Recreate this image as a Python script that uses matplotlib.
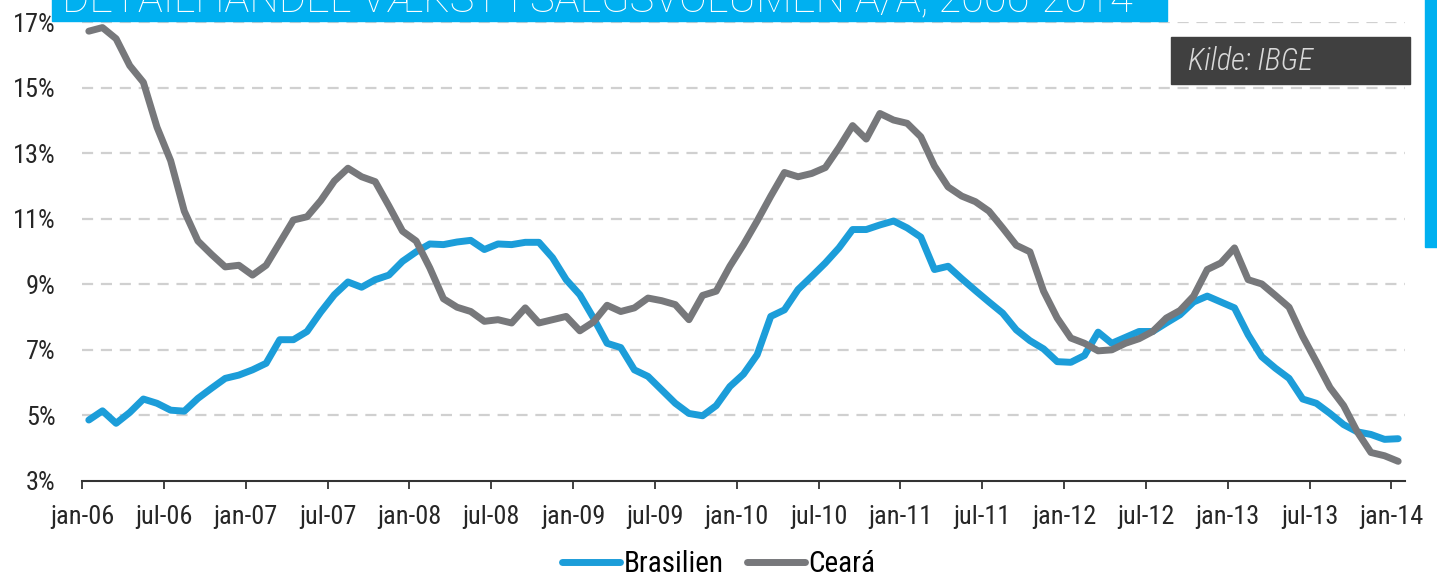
import numpy as np
import matplotlib
matplotlib.use("Agg")
import matplotlib.pyplot as plt
from matplotlib.patches import Rectangle
from matplotlib import font_manager

# monthly y/y growth, jan-06 .. jan-14
brasilien = [4.86, 5.14, 4.76, 5.09, 5.50, 5.37, 5.16, 5.13, 5.52, 5.83, 6.13, 6.23, 6.39, 6.59, 7.31, 7.31, 7.56,
             8.15, 8.68, 9.07, 8.91, 9.14, 9.28, 9.70, 9.99, 10.23, 10.21, 10.29, 10.34, 10.06, 10.23, 10.21, 10.28, 10.28, 9.81,
             9.14, 8.68, 7.97, 7.20, 7.07, 6.39, 6.19, 5.78, 5.37, 5.06, 4.99, 5.30, 5.88, 6.26, 6.85, 8.02, 8.22, 8.84,
             9.24, 9.65, 10.11, 10.67, 10.67, 10.81, 10.93, 10.72, 10.44, 9.45, 9.55, 9.17, 8.81, 8.46, 8.12, 7.61, 7.28, 7.03,
             6.64, 6.62, 6.83, 7.54, 7.20, 7.38, 7.56, 7.56, 7.82, 8.07, 8.46, 8.64, 8.46, 8.28, 7.46, 6.79, 6.44,
             6.13, 5.50, 5.37, 5.06, 4.72, 4.50, 4.42, 4.27, 4.29]
ceara = [16.72, 16.83, 16.49, 15.67, 15.16, 13.79, 12.77, 11.23, 10.32, 9.91, 9.53, 9.58, 9.28, 9.58, 10.27, 10.96, 11.06,
         11.55, 12.15, 12.54, 12.28, 12.13, 11.39, 10.62, 10.32, 9.50, 8.56, 8.30, 8.17, 7.87, 7.92, 7.82, 8.28, 7.82, 7.92,
         8.02, 7.58, 7.85, 8.36, 8.17, 8.28, 8.58, 8.50, 8.38, 7.92, 8.66, 8.79, 9.55, 10.21, 10.93, 11.69, 12.41, 12.28,
         12.38, 12.56, 13.17, 13.84, 13.43, 14.21, 14.01, 13.91, 13.50, 12.61, 11.97, 11.69, 11.52, 11.23, 10.72, 10.19, 9.99, 8.79,
         7.97, 7.36, 7.20, 6.97, 7.00, 7.20, 7.34, 7.56, 7.97, 8.20, 8.64, 9.45, 9.65, 10.11, 9.14, 9.01, 8.66,
         8.30, 7.41, 6.64, 5.85, 5.30, 4.50, 3.87, 3.77, 3.60]
tick_labels = ["jan-06", "jul-06", "jan-07", "jul-07", "jan-08", "jul-08", "jan-09", "jul-09", "jan-10",
               "jul-10", "jan-11", "jul-11", "jan-12", "jul-12", "jan-13", "jul-13", "jan-14"]
y_ticks = [3, 5, 7, 9, 11, 13, 15, 17]
series_names = ["Brasilien", "Ceará"]
title = "DETAILHANDEL VÆKST I SALGSVOLUMEN Å/Å, 2006-2014"
source = "Kilde: IBGE"

blue = "#1c9dd9"
grey = "#77787b"
cyan = "#00b0f0"

# narrow font if there is one, else Liberation Sans
installed = {f.name for f in font_manager.fontManager.ttflist}
font = [f for f in ["Roboto Condensed", "Liberation Sans Narrow", "Liberation Sans"] if f in installed][0]
narrow = font != "Liberation Sans"
fs = 19 if narrow else 16

fig = plt.figure(figsize=(14.37, 5.78), dpi=100)
ax = fig.add_axes([82 / 1437, 97 / 578, 1323 / 1437, 459 / 578])

x = np.arange(len(brasilien)) + 0.5
ax.plot(x, brasilien, color=blue, lw=5, solid_joinstyle="round", solid_capstyle="round", label=series_names[0], zorder=3)
ax.plot(x, ceara, color=grey, lw=5, solid_joinstyle="round", solid_capstyle="round", label=series_names[1], zorder=3)

ax.set_xlim(0, 97)
ax.set_ylim(3, 17)
ax.set_xticks(np.arange(0, 97, 6))
ax.set_xticklabels(tick_labels, fontsize=fs, family=font, color="#262626")
ax.set_yticks(y_ticks)
ax.set_yticklabels([f"{v}%" for v in y_ticks], fontsize=fs, family=font, color="#262626")
ax.tick_params(axis="x", length=6, width=1.3, color="#333333", pad=11, direction="out")
ax.tick_params(axis="y", length=0, pad=19)
for v in y_ticks[1:]:
    ax.axhline(v, color="#d0d0d0", lw=1.6, linestyle=(0, (5, 3.5)), zorder=1)
for s in ["top", "right", "left"]:
    ax.spines[s].set_visible(False)
ax.spines["bottom"].set_color("#333333")
ax.spines["bottom"].set_linewidth(1.5)

fig.legend(loc="lower center", bbox_to_anchor=(0.5, -0.045), ncol=2, frameon=False,
           prop={"family": font, "size": fs + 2}, handlelength=2.0, handletextpad=0.1, columnspacing=0.8)

# title banner, cut at the top edge
fig.patches.append(Rectangle((52 / 1437, 1 - 21 / 578), 1115 / 1437, 0.1, transform=fig.transFigure,
                             color=cyan, zorder=0))
fig.text(62 / 1437, 1 - 12 / 578, title, color="white", fontsize=30, family="Roboto", weight="light",
         va="baseline", ha="left")

# side banner
fig.patches.append(Rectangle((1425 / 1437, 1 - 247 / 578), 0.05, 0.5, transform=fig.transFigure,
                             color=cyan, zorder=0))

# source box
fig.patches.append(Rectangle((1171 / 1437, 1 - 84 / 578), 239 / 1437, 47 / 578, transform=fig.transFigure,
                             color="#404040", zorder=4))
fig.text(1188 / 1437, 1 - 61 / 578, source, color="#d9d9d9", fontsize=22, family=font, style="italic",
         weight="light", va="center", ha="left", zorder=5)

fig.savefig("out.png", dpi=100)
